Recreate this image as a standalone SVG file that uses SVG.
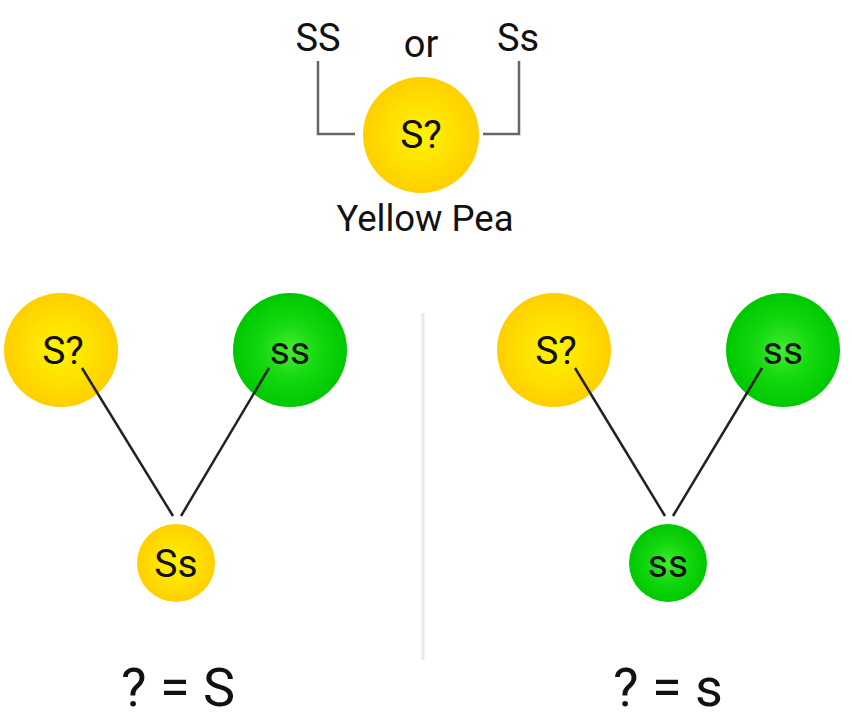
<svg xmlns="http://www.w3.org/2000/svg" width="852" height="723" viewBox="0 0 852 723">
<defs>
  <radialGradient id="gy" cx="50%" cy="50%" r="50%">
    <stop offset="0" stop-color="#FFF400"/>
    <stop offset="0.5" stop-color="#FFE200"/>
    <stop offset="1" stop-color="#FFCF00"/>
  </radialGradient>
  <radialGradient id="gg" cx="50%" cy="50%" r="50%">
    <stop offset="0" stop-color="#44EC30"/>
    <stop offset="0.5" stop-color="#14D810"/>
    <stop offset="1" stop-color="#00C800"/>
  </radialGradient>
</defs>
<style>
  text { font-family: Roboto, "Liberation Sans", sans-serif; fill: #111; text-anchor: middle; }
  .y { fill: url(#gy); }
  .g { fill: url(#gg); }
  .lbl { font-size: 38px; }
  .cap { font-size: 36.5px; }
  .big { font-size: 39px; }
  .small { font-size: 39px; }
  .eq { font-size: 54px; }
  .bracket { fill: none; stroke: #666; stroke-width: 2.5; }
  .link { stroke: #222; stroke-width: 2.5; fill: none; }
  .divider { stroke: #e8e8e8; stroke-width: 3; }
</style>

<g id="divider">
  <line class="divider" x1="423" y1="313" x2="423" y2="660"/>
</g>

<g id="label-SS"><text class="lbl" x="318" y="51">SS</text></g>
<g id="label-or"><text class="lbl" x="421" y="57">or</text></g>
<g id="label-Ss"><text class="lbl" x="518" y="51">Ss</text></g>

<g id="top-pea">
  <circle class="y" cx="421" cy="135" r="58"/>
  <text class="big" x="421" y="148">S?</text>
</g>
<g id="label-yellow-pea"><text class="cap" x="425" y="231">Yellow Pea</text></g>

<g id="left-parent-yellow">
  <circle class="y" cx="61" cy="350" r="57"/>
  <text class="big" x="63" y="364">S?</text>
</g>
<g id="left-parent-green">
  <circle class="g" cx="290" cy="350" r="57"/>
  <text class="big" x="290" y="364">ss</text>
</g>
<g id="left-child">
  <circle class="y" cx="176" cy="563" r="39"/>
  <text class="small" x="176" y="577">Ss</text>
</g>
<g id="left-result"><text class="eq" x="178" y="706">? = S</text></g>

<g id="right-parent-yellow">
  <circle class="y" cx="554" cy="350" r="57"/>
  <text class="big" x="556" y="364">S?</text>
</g>
<g id="right-parent-green">
  <circle class="g" cx="783" cy="350" r="57"/>
  <text class="big" x="783" y="364">ss</text>
</g>
<g id="right-child">
  <circle class="g" cx="668" cy="563" r="39"/>
  <text class="small" x="668" y="577">ss</text>
</g>
<g id="right-result"><text class="eq" x="668" y="706">? = s</text></g>

<g id="connectors">
  <polyline class="bracket" points="318,61 318,134 355,134"/>
  <polyline class="bracket" points="483,134 519,134 519,61"/>
  <line class="link" x1="82" y1="368" x2="173" y2="516"/>
  <line class="link" x1="269" y1="368" x2="181" y2="516"/>
  <line class="link" x1="575" y1="368" x2="665" y2="516"/>
  <line class="link" x1="762" y1="368" x2="673" y2="516"/>
</g>
</svg>
